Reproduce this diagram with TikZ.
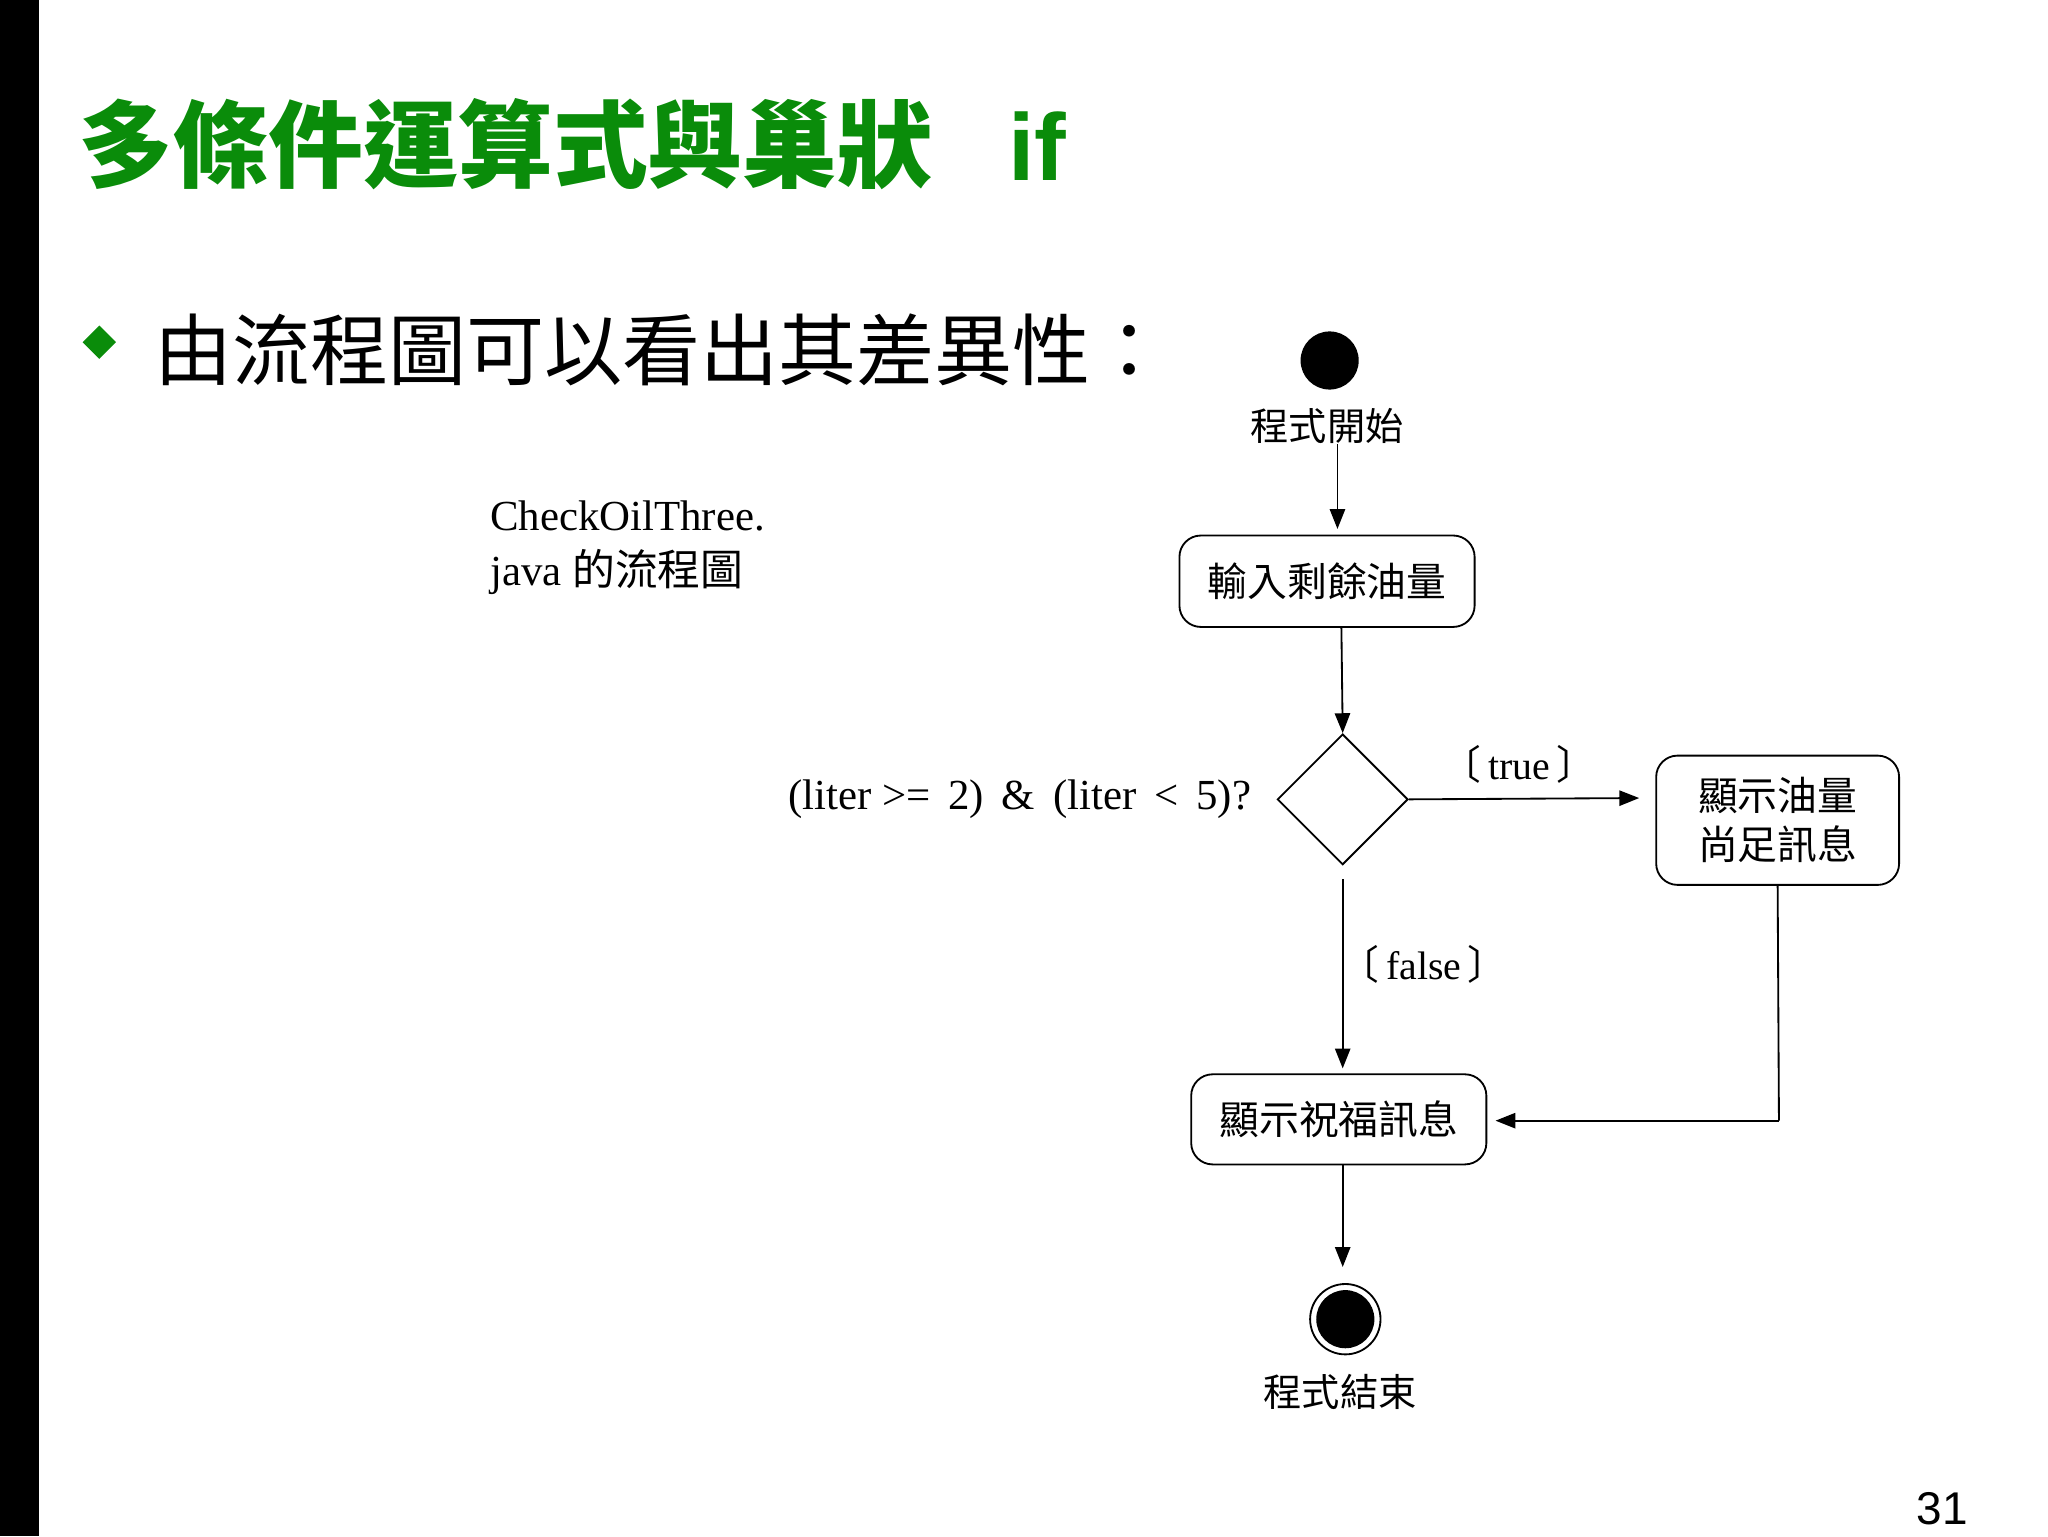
\documentclass[tikz,border=0pt]{standalone}
\usepackage{fontspec}
\setmainfont{Liberation Serif}
\newfontfamily\cjk{Noto Sans CJK TC}
\newfontfamily\sans{Liberation Sans}
\usetikzlibrary{shapes.geometric,arrows.meta}
\definecolor{ttlgreen}{RGB}{10,140,10}
\begin{document}
\begin{tikzpicture}[x=0.03cm,y=-0.03cm,
  box/.style={draw,line width=1.2pt,rounded corners=14pt,inner sep=0pt,font=\cjk\fontsize{26}{32}\selectfont,align=center},
  lbl/.style={font=\cjk\fontsize{25}{28}\selectfont,inner sep=0pt},
  arr/.style={-{Triangle[length=13pt,width=10pt]},line width=1.2pt}]
\useasboundingbox (0,0) rectangle (1568,1176);
\fill[black] (0,0) rectangle (30,1176);
\node[anchor=west,text=ttlgreen,font=\cjk\bfseries\fontsize{62}{66}\selectfont,inner sep=0pt] (title) at (60,110) {多條件運算式與巢狀\hspace{0.8em}{\sans\bfseries if}};
\node[diamond,fill=ttlgreen,inner sep=0pt,minimum size=22pt] (bul) at (76,262) {};
\node[anchor=west,font=\cjk\fontsize{51}{56}\selectfont,inner sep=0pt] (sub) at (118,268) {由流程圖可以看出其差異性：};
\node[anchor=north west,align=left,font=\fontsize{28}{36}\selectfont,inner sep=0pt] (cap) at (375,383) {CheckOilThree.\\java {\cjk 的流程圖}};
\node[circle,fill=black,minimum size=38pt,inner sep=0pt] (start) at (1018,276) {};
\node[lbl] (startl) at (1016,326) {程式開始};
\node[box,minimum width=226*0.03cm,minimum height=70*0.03cm] (in) at (1016,445) {輸入剩餘油量};
\node[diamond,draw,line width=1.2pt,minimum width=100*0.03cm,minimum height=100*0.03cm,inner sep=0pt] (d) at (1028,612) {};
\node[anchor=east,font=\fontsize{28}{30}\selectfont,inner sep=0pt] (cond) at (958,612) {(liter >=\, 2)\, \&\, (liter\, <\, 5)?};
\node[box,minimum width=186*0.03cm,minimum height=99*0.03cm] (ok) at (1361,628) {顯示油量\\尚足訊息};
\node[box,minimum width=226*0.03cm,minimum height=69*0.03cm] (bless) at (1025,857) {顯示祝福訊息};
\node[circle,draw,line width=1.2pt,minimum size=46pt,inner sep=0pt] (end) at (1030,1010) {};
\fill (end.center) circle (19pt);
\node[lbl] (endl) at (1026,1066) {程式結束};
\node[font=\fontsize{26}{28}\selectfont,inner sep=0pt] (tl) at (1163,585) {{\cjk 〔}\,true\,{\cjk 〕}};
\node[font=\fontsize{26}{28}\selectfont,inner sep=0pt] (fl) at (1090,738) {{\cjk 〔}\,false\,{\cjk 〕}};
\node[font=\sans\fontsize{30}{32}\selectfont,inner sep=0pt] (pg) at (1487,1155) {31};
\coordinate (s1) at (1024,340);
\coordinate (c1) at (1362,858);
\draw[arr] (s1) -- (1024,405);
\draw[arr] (in.south -| 1027,0) -- (d.north);
\draw[arr] (d.east) -- (1255,611);
\draw[arr] (1028,673) -- (1028,818);
\draw[line width=1.2pt] (ok.south) -- (c1);
\draw[arr] (c1) -- (1145,858);
\draw[arr] (bless.south -| 1028,0) -- (1028,970);
\end{tikzpicture}
\end{document}
